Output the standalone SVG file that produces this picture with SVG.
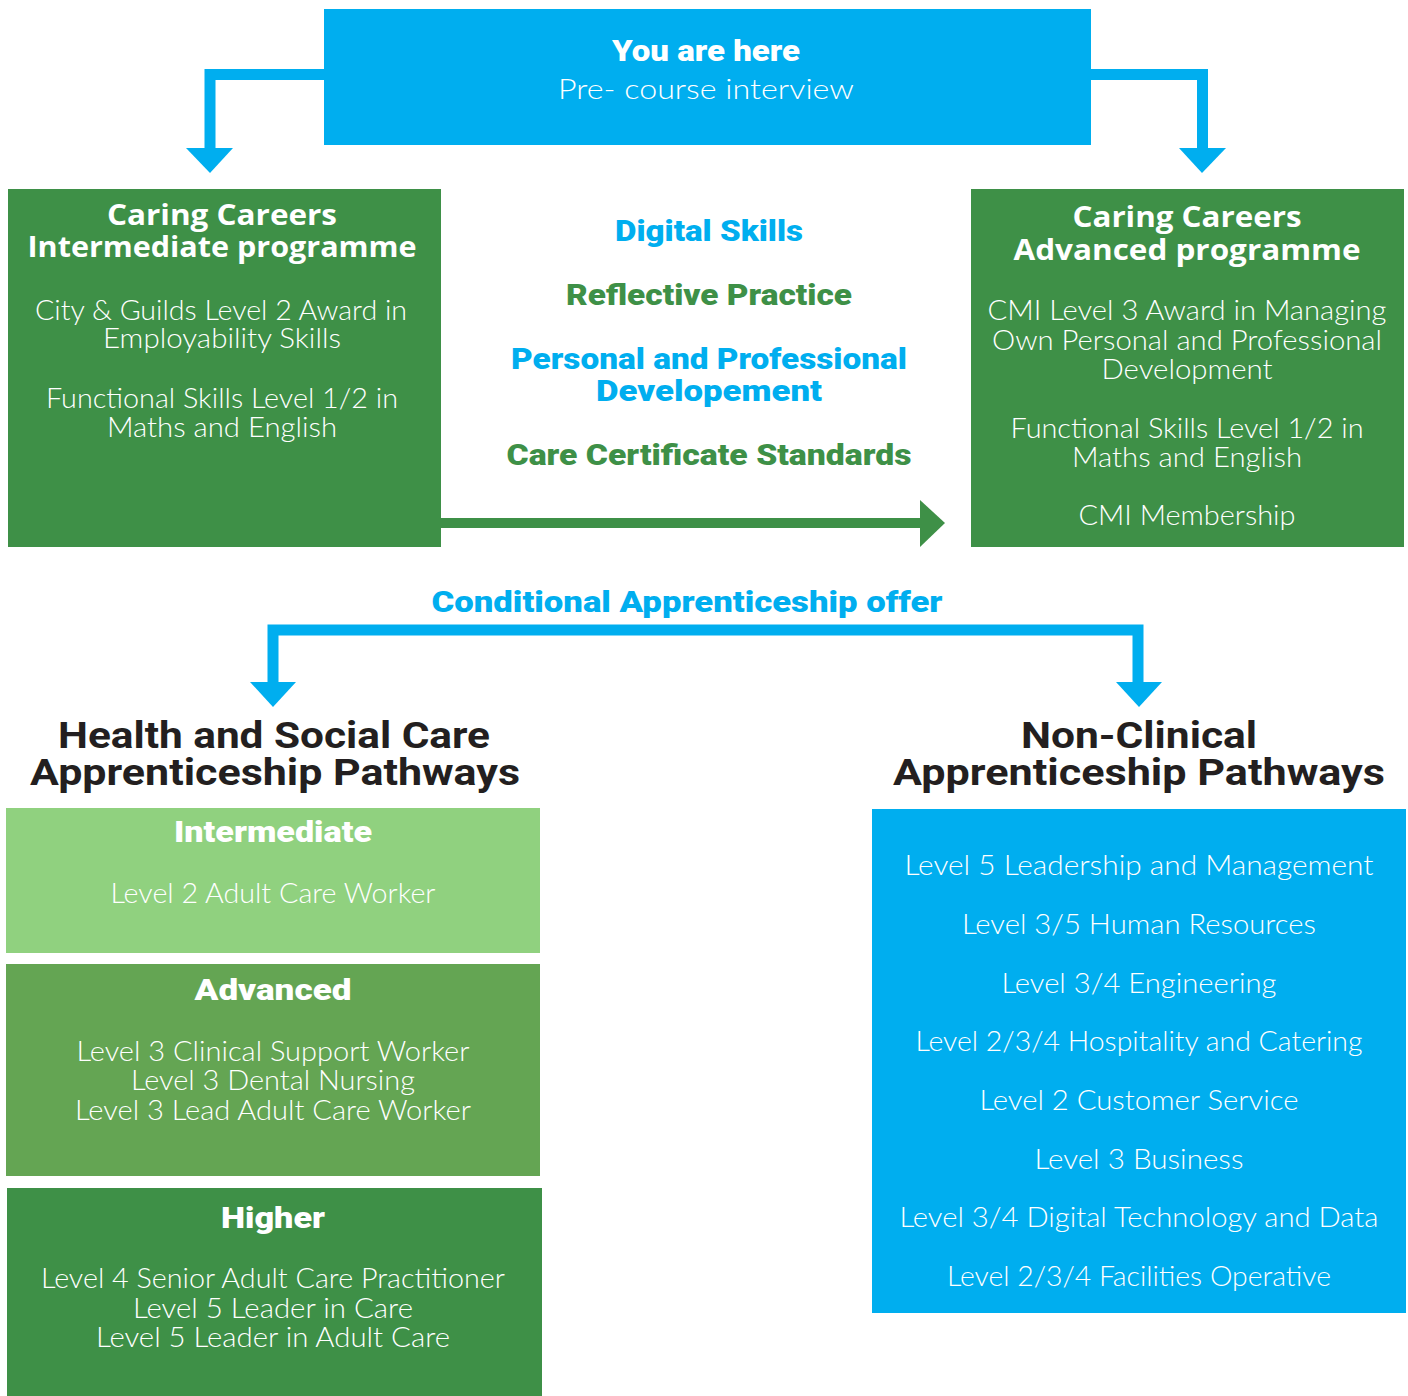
<svg xmlns="http://www.w3.org/2000/svg" width="1408" height="1396" viewBox="0 0 1408 1396">
<style>
text{text-anchor:middle}
.w{fill:#ffffff}
.hb{font-family:"Open Sans","Liberation Sans",sans-serif;font-weight:700;font-size:28px}
.rb{font-family:Roboto,"Liberation Sans",sans-serif;font-weight:900;font-size:29px}
.lt{font-family:Lato,Roboto,"Liberation Sans",sans-serif;font-weight:300;font-size:28px;fill:#ffffff}
.hd{font-family:Roboto,"Liberation Sans",sans-serif;font-weight:700;font-size:36px;fill:#231f20}
.blue{fill:#00aeef}
.green{fill:#3e9047}
.cb{stroke:#00aeef;stroke-width:11;fill:none;stroke-linejoin:miter}
.cg{stroke:#3e9047;stroke-width:10;fill:none}
</style>
<rect width="1408" height="1396" fill="#ffffff"/>

<g id="connectors">
  <path class="cb" d="M330 74.5 H210 V150"/>
  <polygon class="blue" points="186,148 233,148 210,173"/>
  <path class="cb" d="M1086 74.5 H1202.5 V150"/>
  <polygon class="blue" points="1179,148 1226,148 1202,173"/>
  <path class="cg" d="M441 523 H922"/>
  <polygon class="green" points="920,500 920,547 945,523"/>
  <path class="cb" d="M273 685 V630 H1138 V685"/>
  <polygon class="blue" points="250,682 296,682 273,707"/>
  <polygon class="blue" points="1116,682 1162,682 1139,707"/>
</g>

<g id="start">
  <rect x="324" y="9" width="767" height="136" fill="#00aeef"/>
  <text class="rb w" x="706" y="61" textLength="188" lengthAdjust="spacingAndGlyphs">You are here</text>
  <text class="lt" x="706" y="99" textLength="296" lengthAdjust="spacingAndGlyphs">Pre- course interview</text>
</g>

<g id="intermediate-programme">
  <rect x="8" y="189" width="433" height="358" fill="#3e9047"/>
  <text class="hb w" x="222" y="225" textLength="230" lengthAdjust="spacingAndGlyphs">Caring Careers</text>
  <text class="hb w" x="222" y="257" textLength="389" lengthAdjust="spacingAndGlyphs">Intermediate programme</text>
  <text class="lt" x="221" y="320" textLength="372" lengthAdjust="spacingAndGlyphs">City &amp; Guilds Level 2 Award in</text>
  <text class="lt" x="222" y="348" textLength="238" lengthAdjust="spacingAndGlyphs">Employability Skills</text>
  <text class="lt" x="222" y="408" textLength="352" lengthAdjust="spacingAndGlyphs">Functional Skills Level 1/2 in</text>
  <text class="lt" x="222" y="437" textLength="230" lengthAdjust="spacingAndGlyphs">Maths and English</text>
</g>

<g id="skills">
  <text class="rb blue" x="709" y="241" textLength="188" lengthAdjust="spacingAndGlyphs">Digital Skills</text>
  <text class="rb green" x="709" y="305" textLength="286" lengthAdjust="spacingAndGlyphs">Reflective Practice</text>
  <text class="rb blue" x="709" y="369" textLength="396" lengthAdjust="spacingAndGlyphs">Personal and Professional</text>
  <text class="rb blue" x="709" y="401" textLength="226" lengthAdjust="spacingAndGlyphs">Developement</text>
  <text class="rb green" x="709" y="465" textLength="405" lengthAdjust="spacingAndGlyphs">Care Certificate Standards</text>
</g>

<g id="advanced-programme">
  <rect x="971" y="189" width="433" height="358" fill="#3e9047"/>
  <text class="hb w" x="1187" y="227" textLength="229" lengthAdjust="spacingAndGlyphs">Caring Careers</text>
  <text class="hb w" x="1187" y="260" textLength="347" lengthAdjust="spacingAndGlyphs">Advanced programme</text>
  <text class="lt" x="1187" y="320" textLength="399" lengthAdjust="spacingAndGlyphs">CMI Level 3 Award in Managing</text>
  <text class="lt" x="1187" y="350" textLength="390" lengthAdjust="spacingAndGlyphs">Own Personal and Professional</text>
  <text class="lt" x="1187" y="379" textLength="171" lengthAdjust="spacingAndGlyphs">Development</text>
  <text class="lt" x="1187" y="438" textLength="353" lengthAdjust="spacingAndGlyphs">Functional Skills Level 1/2 in</text>
  <text class="lt" x="1187" y="467" textLength="230" lengthAdjust="spacingAndGlyphs">Maths and English</text>
  <text class="lt" x="1187" y="525" textLength="217" lengthAdjust="spacingAndGlyphs">CMI Membership</text>
</g>

<g id="offer">
  <text class="rb blue" x="687" y="612" font-size="30" textLength="511" lengthAdjust="spacingAndGlyphs">Conditional  Apprenticeship offer</text>
</g>

<g id="hsc-heading">
  <text class="hd" x="274" y="748" textLength="432" lengthAdjust="spacingAndGlyphs">Health and Social Care</text>
  <text class="hd" x="275" y="785" textLength="490" lengthAdjust="spacingAndGlyphs">Apprenticeship Pathways</text>
</g>

<g id="nc-heading">
  <text class="hd" x="1139" y="748" textLength="236" lengthAdjust="spacingAndGlyphs">Non-Clinical</text>
  <text class="hd" x="1139" y="785" textLength="492" lengthAdjust="spacingAndGlyphs">Apprenticeship Pathways</text>
</g>

<g id="hsc-intermediate">
  <rect x="6" y="808" width="534" height="145" fill="#90d17f"/>
  <text class="rb w" x="273" y="842" textLength="198" lengthAdjust="spacingAndGlyphs">Intermediate</text>
  <text class="lt" x="273" y="903" textLength="325" lengthAdjust="spacingAndGlyphs">Level 2 Adult Care Worker</text>
</g>

<g id="hsc-advanced">
  <rect x="6" y="964" width="534" height="212" fill="#64a553"/>
  <text class="rb w" x="273" y="1000" textLength="157" lengthAdjust="spacingAndGlyphs">Advanced</text>
  <text class="lt" x="273" y="1061" textLength="393" lengthAdjust="spacingAndGlyphs">Level 3 Clinical Support Worker</text>
  <text class="lt" x="273" y="1090" textLength="284" lengthAdjust="spacingAndGlyphs">Level 3 Dental Nursing</text>
  <text class="lt" x="273" y="1120" textLength="396" lengthAdjust="spacingAndGlyphs">Level 3 Lead Adult Care Worker</text>
</g>

<g id="hsc-higher">
  <rect x="7" y="1188" width="535" height="208" fill="#3e9047"/>
  <text class="rb w" x="273" y="1228" textLength="104" lengthAdjust="spacingAndGlyphs">Higher</text>
  <text class="lt" x="273" y="1288" textLength="464" lengthAdjust="spacingAndGlyphs">Level 4 Senior Adult Care Practitioner</text>
  <text class="lt" x="273" y="1318" textLength="280" lengthAdjust="spacingAndGlyphs">Level 5 Leader in Care</text>
  <text class="lt" x="273" y="1347" textLength="354" lengthAdjust="spacingAndGlyphs">Level 5 Leader in Adult Care</text>
</g>

<g id="non-clinical">
  <rect x="872" y="809" width="534" height="504" fill="#00aeef"/>
  <text class="lt" x="1139" y="875" textLength="469" lengthAdjust="spacingAndGlyphs">Level 5 Leadership and Management</text>
  <text class="lt" x="1139" y="934" textLength="354" lengthAdjust="spacingAndGlyphs">Level 3/5 Human Resources</text>
  <text class="lt" x="1139" y="993" textLength="275" lengthAdjust="spacingAndGlyphs">Level 3/4 Engineering</text>
  <text class="lt" x="1139" y="1051" textLength="447" lengthAdjust="spacingAndGlyphs">Level 2/3/4 Hospitality and Catering</text>
  <text class="lt" x="1139" y="1110" textLength="319" lengthAdjust="spacingAndGlyphs">Level 2 Customer Service</text>
  <text class="lt" x="1139" y="1169" textLength="209" lengthAdjust="spacingAndGlyphs">Level 3 Business</text>
  <text class="lt" x="1139" y="1227" textLength="479" lengthAdjust="spacingAndGlyphs">Level 3/4 Digital Technology and Data</text>
  <text class="lt" x="1139" y="1286" textLength="384" lengthAdjust="spacingAndGlyphs">Level 2/3/4 Facilities Operative</text>
</g>
</svg>
